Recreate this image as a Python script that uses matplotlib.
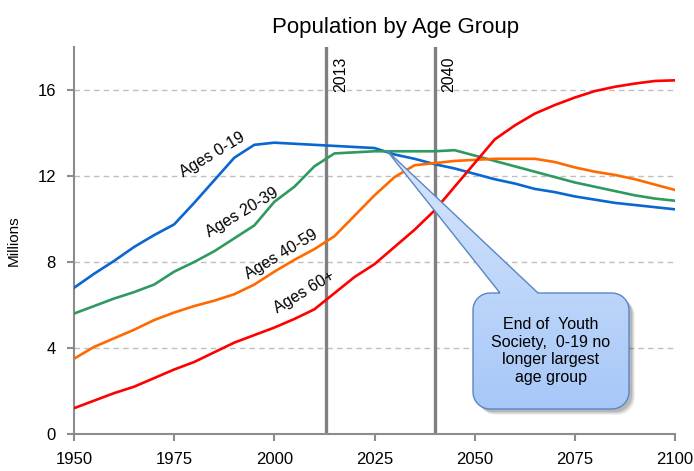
import numpy as np
import matplotlib
matplotlib.use("Agg")
import matplotlib.pyplot as plt
from matplotlib.path import Path
from matplotlib.patches import PathPatch, Rectangle, Polygon
from matplotlib.transforms import IdentityTransform

plt.rcParams['font.family'] = ['Liberation Sans', 'DejaVu Sans']

# ---- data (millions) ----
years = list(range(1950, 2101, 5))

ages_0_19 = [6.8, 7.45, 8.05, 8.7, 9.25, 9.75, 10.75, 11.8, 12.85, 13.45, 13.55,
             13.5, 13.45, 13.4, 13.35, 13.3, 13.0, 12.8, 12.55, 12.35, 12.1,
             11.85, 11.65, 11.4, 11.25, 11.05, 10.9, 10.75, 10.65, 10.55, 10.45]
ages_20_39 = [5.6, 5.95, 6.3, 6.6, 6.95, 7.55, 8.0, 8.5, 9.1, 9.7, 10.8,
              11.5, 12.45, 13.05, 13.1, 13.15, 13.15, 13.15, 13.15, 13.2, 12.95,
              12.7, 12.45, 12.2, 11.95, 11.7, 11.5, 11.3, 11.1, 10.95, 10.85]
ages_40_59 = [3.5, 4.05, 4.45, 4.85, 5.3, 5.65, 5.95, 6.2, 6.5, 6.95, 7.55,
              8.1, 8.6, 9.2, 10.15, 11.1, 11.95, 12.5, 12.6, 12.7, 12.75,
              12.8, 12.8, 12.8, 12.65, 12.4, 12.2, 12.05, 11.85, 11.6, 11.35]
ages_60_plus = [1.2, 1.55, 1.9, 2.2, 2.6, 3.0, 3.35, 3.8, 4.25, 4.6, 4.95,
                5.35, 5.8, 6.55, 7.3, 7.9, 8.7, 9.5, 10.4, 11.5, 12.6,
                13.7, 14.35, 14.9, 15.3, 15.65, 15.95, 16.15, 16.3, 16.42, 16.45]

series_names = ['Ages 0-19', 'Ages 20-39', 'Ages 40-59', 'Ages 60+']
series_values = [ages_0_19, ages_20_39, ages_40_59, ages_60_plus]
series_colors = ['#0a66d0', '#2f9a5f', '#ff6a00', '#ff0000']
# label anchor (year, value) for the inline labels
label_pos = [(1984.6, 13.0), (1991.9, 10.3), (2001.8, 8.35), (2007.4, 6.6)]

marker_years = [2013, 2040]
x_ticks = [1950, 1975, 2000, 2025, 2050, 2075, 2100]
y_ticks = [0, 4, 8, 12, 16]

callout_text = 'End of  Youth\nSociety,  0-19 no\nlonger largest\nage group'
callout_point = (2028, 13.2)

W, H = 694, 471
fig = plt.figure(figsize=(W / 100, H / 100), dpi=100)
ax = fig.add_axes([74 / W, 1 - 434 / H, 601 / W, 387 / H])
ax.set_xlim(1950, 2100)
ax.set_ylim(0, 18)

axis_gray = '#8c8c8c'

# gridlines
for yv in y_ticks[1:]:
    ax.axhline(yv, color='#bfbfbf', linestyle=(0, (4, 3)), linewidth=1.0, zorder=0)

# vertical markers
for yr in marker_years:
    ax.axvline(yr, color='#808080', linewidth=2.4, zorder=1)
    ax.text(yr + 1.7, 17.55, str(yr), rotation=90, ha='left', va='top',
            fontsize=11.5, color='black')

# series
for name, vals, col in zip(series_names, series_values, series_colors):
    ax.plot(years, vals, color=col, linewidth=1.9, zorder=3)

for name, (lx, ly) in zip(series_names, label_pos):
    ax.text(lx, ly, name, rotation=31, rotation_mode='anchor', ha='center',
            va='center', fontsize=11.5, color='black', zorder=4)

ax.set_xticks(x_ticks)
ax.set_yticks(y_ticks)
for s in ['top', 'right']:
    ax.spines[s].set_visible(False)
for s in ['left', 'bottom']:
    ax.spines[s].set_color(axis_gray)
    ax.spines[s].set_linewidth(1.5)
ax.tick_params(axis='both', colors=axis_gray, direction='out', length=5, width=1.5,
               labelcolor='black', labelsize=12)
ax.tick_params(axis='x', pad=8)
ax.tick_params(axis='y', pad=8)
ax.set_ylabel('Millions', fontsize=11, labelpad=12)

fig.text(396 / W, 1 - 28 / H, 'Population by Age Group', ha='center', va='center',
         fontsize=16)

# ---- callout (pixel coordinates, y measured from the bottom) ----
tipx, tipy = ax.transData.transform(callout_point)
bx0, bx1 = 473, 629
by_top, by_bot = H - 293, H - 409
r = 17
wl, wr = 500, 538


def arc(cx, cy, a0, a1, n=10):
    t = np.radians(np.linspace(a0, a1, n))
    return [(cx + r * np.cos(a), cy + r * np.sin(a)) for a in t]


box = []
box += [(bx1 - r, by_top)]
box += arc(bx1 - r, by_top - r, 90, 0)
box += [(bx1, by_bot + r)]
box += arc(bx1 - r, by_bot + r, 0, -90)
box += [(bx0 + r, by_bot)]
box += arc(bx0 + r, by_bot + r, -90, -180)
box += [(bx0, by_top - r)]
box += arc(bx0 + r, by_top - r, 180, 90)
box_codes = [Path.MOVETO] + [Path.LINETO] * (len(box) - 1)
box_path = Path(box, box_codes)

verts = [(wl, by_top), (tipx, tipy), (wr, by_top)] + box + [(wl, by_top)]
codes = [Path.MOVETO] + [Path.LINETO] * (len(verts) - 1)
path = Path(verts, codes)

for dx, dy, a in [(6, -6, 0.05), (5, -5, 0.07), (4, -4, 0.09), (3, -3, 0.1)]:
    sh = Path(np.array(box) + np.array([dx, dy]), box_codes)
    ax.add_artist(PathPatch(sh, transform=IdentityTransform(), facecolor='black',
                            edgecolor='none', alpha=a, zorder=5.0, clip_on=False))

top_c = np.array([0.84, 0.90, 0.99])
bot_c = np.array([0.65, 0.78, 0.97])


def grad_color(y):
    f = (y - by_bot) / (tipy - by_bot)
    return bot_c * (1 - f) + top_c * f


# box body: thin bands clipped to the rounded box
box_clip = PathPatch(box_path, transform=IdentityTransform(), facecolor='none',
                     edgecolor='none')
ax.add_artist(box_clip)
n_bands = 60
edges = np.linspace(by_bot - 1, by_top + 1, n_bands + 1)
for i in range(n_bands):
    band = Rectangle((bx0 - 2, edges[i]), bx1 - bx0 + 4, edges[i + 1] - edges[i] + 0.6,
                     transform=IdentityTransform(),
                     facecolor=grad_color((edges[i] + edges[i + 1]) / 2),
                     edgecolor='none', zorder=5.1)
    ax.add_artist(band)
    band.set_clip_path(box_clip)


# pointer: trapezoid slices of the wedge
def wedge_x(y):
    t = (y - by_top) / (tipy - by_top)
    return wl + (tipx - wl) * t, wr + (tipx - wr) * t


w_edges = np.linspace(by_top - 1, tipy, 40)
for y0, y1 in zip(w_edges[:-1], w_edges[1:]):
    y1c = min(y1 + 0.6, tipy)
    l0, r0 = wedge_x(y0)
    l1, r1 = wedge_x(y1c)
    ax.add_artist(Polygon([(l0, y0), (r0, y0), (r1, y1c), (l1, y1c)],
                          closed=True, transform=IdentityTransform(),
                          facecolor=grad_color((y0 + y1) / 2), edgecolor='none',
                          zorder=5.1, clip_on=False))

ax.add_artist(PathPatch(path, transform=IdentityTransform(), facecolor='none',
                        edgecolor='#5a86c2', linewidth=1.0, zorder=5.2, clip_on=False))

ax.text((bx0 + bx1) / 2, H - 351, callout_text, transform=IdentityTransform(),
        ha='center', va='center', fontsize=11.5, linespacing=1.2, zorder=6)

fig.savefig('out.png', dpi=100)
